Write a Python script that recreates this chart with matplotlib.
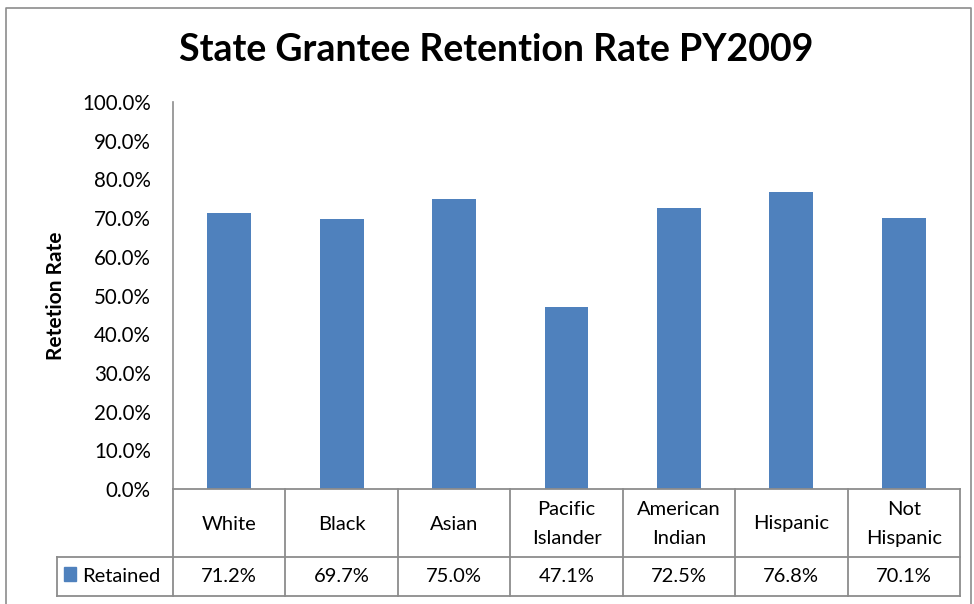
import matplotlib
matplotlib.use('Agg')
import matplotlib.pyplot as plt
from matplotlib.lines import Line2D
from matplotlib.patches import Rectangle
import matplotlib.transforms as mtransforms

# data
categories = ['White', 'Black', 'Asian', 'Pacific\nIslander', 'American\nIndian', 'Hispanic', 'Not\nHispanic']
retained = [71.2, 69.7, 75.0, 47.1, 72.5, 76.8, 70.1]
series_name = 'Retained'
yticks = [0, 10, 20, 30, 40, 50, 60, 70, 80, 90, 100]

W, H = 974, 604
bar_color = '#4F81BD'
grid_gray = '#8c8c8c'
plt.rcParams['font.family'] = ['Lato', 'DejaVu Sans']

fig = plt.figure(figsize=(W / 100, H / 100), dpi=100)


def fx(x):
    return x / W


def fy(y):
    return 1 - y / H


# plot area in pixels
left, right, top, bottom = 173, 960, 102, 489
ax = fig.add_axes([fx(left), fy(bottom), fx(right - left), fy(top) - fy(bottom)])

x = list(range(len(categories)))
ax.bar(x, retained, width=0.39, color=bar_color, zorder=2)
ax.set_xlim(-0.5, len(categories) - 0.5)
ax.set_ylim(0, 100)
ax.set_yticks(yticks)
ax.set_yticklabels(['%.1f%%' % t for t in yticks], fontsize=14.8)
ax.tick_params(axis='y', length=0, pad=16)
ax.set_xticks([])
for s in ['top', 'right', 'bottom']:
    ax.spines[s].set_visible(False)
ax.spines['left'].set_color(grid_gray)
ax.spines['left'].set_linewidth(1.2)

ax.set_ylabel('Retetion Rate', fontsize=15, fontweight='bold')
ax.yaxis.set_label_coords((66 - left) / (right - left), 0.5)

fig.text(fx(496), fy(50), 'State Grantee Retention Rate PY2009', fontsize=27,
         fontweight='bold', ha='center', va='center')

# data table below the plot
trans = mtransforms.blended_transform_factory(ax.transData, fig.transFigure)
row1_top, row1_bot, row2_bot = bottom, 557, 596
lw = 1.3
for xi in [i - 0.5 for i in range(len(categories) + 1)]:
    fig.add_artist(Line2D([xi, xi], [fy(row1_top), fy(row2_bot)], transform=trans,
                          color=grid_gray, lw=lw))
# horizontal lines
fig.add_artist(Line2D([fx(left), fx(right)], [fy(row1_top), fy(row1_top)],
                      transform=fig.transFigure, color=grid_gray, lw=lw))
for yy in [row1_bot, row2_bot]:
    fig.add_artist(Line2D([fx(57), fx(right)], [fy(yy), fy(yy)],
                          transform=fig.transFigure, color=grid_gray, lw=lw))
fig.add_artist(Line2D([fx(57), fx(57)], [fy(row1_bot), fy(row2_bot)],
                      transform=fig.transFigure, color=grid_gray, lw=lw))

for i, (c, v) in enumerate(zip(categories, retained)):
    fig.text(i, fy((row1_top + row1_bot) / 2 + 1), c, transform=trans, ha='center',
             va='center', fontsize=14.5, linespacing=1.85)
    fig.text(i, fy((row1_bot + row2_bot) / 2), '%.1f%%' % v, transform=trans,
             ha='center', va='center', fontsize=14.5)

# legend key in the table
fig.add_artist(Rectangle((fx(64), fy(581)), fx(12), fy(567) - fy(581),
                         transform=fig.transFigure, color=bar_color))
fig.text(fx(82), fy(576), series_name, ha='left', va='center', fontsize=14.5)

# chart border
fig.add_artist(Line2D([fx(6), fx(6), fx(971), fx(971)], [fy(H), fy(8), fy(8), fy(H)],
                      transform=fig.transFigure, color=grid_gray, lw=1.2))

fig.savefig('out.png', dpi=100)
